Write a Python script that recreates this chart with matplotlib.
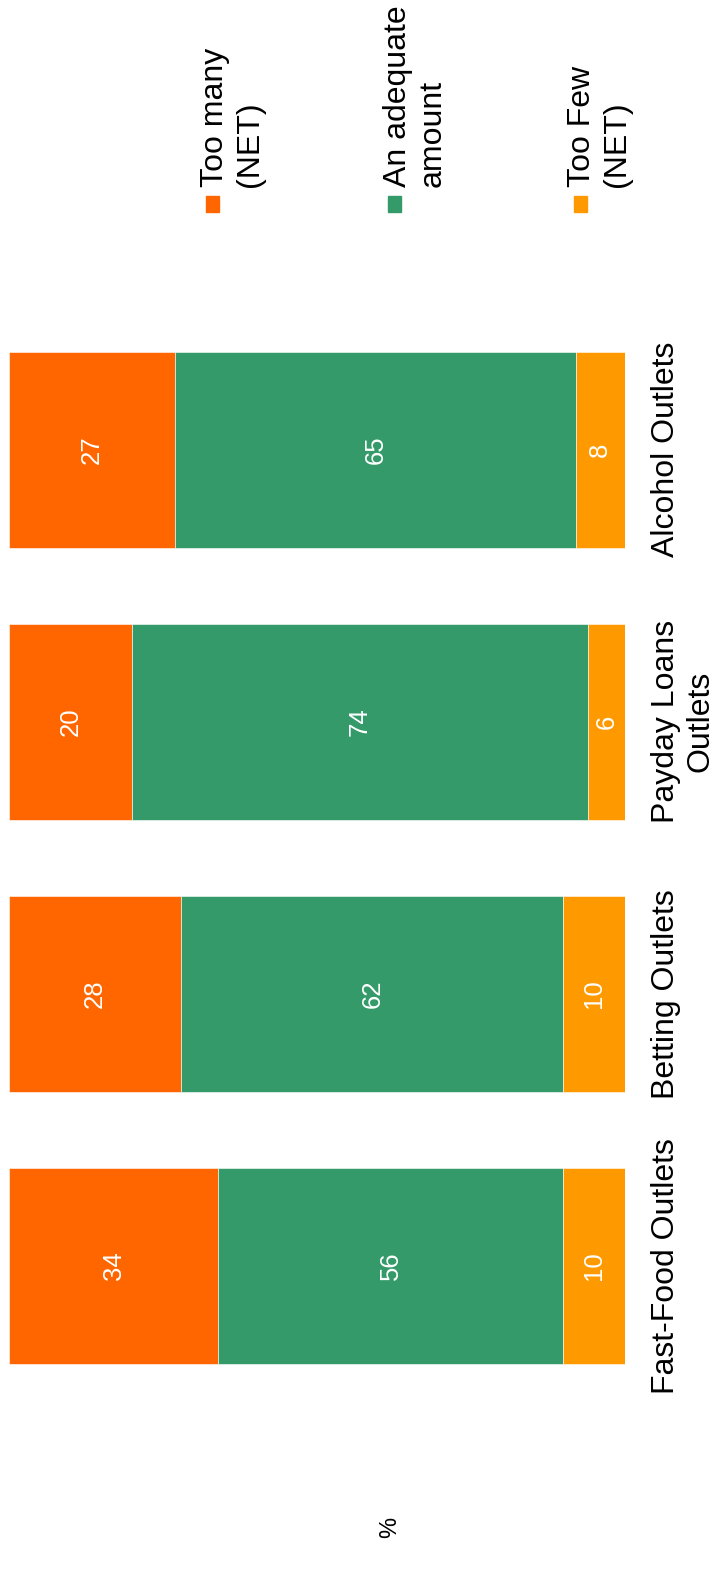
import matplotlib.pyplot as plt
from matplotlib.patches import Rectangle
import numpy as np

plt.rcParams['font.family'] = ['Liberation Sans', 'DejaVu Sans']

# survey results, % per outlet type
categories = ['Fast-Food Outlets', 'Betting Outlets', 'Payday Loans\nOutlets', 'Alcohol Outlets']
too_many = [34, 28, 20, 27]
adequate = [56, 62, 74, 65]
too_few = [10, 10, 6, 8]

series = [('Too many\n(NET)', too_many, '#FF6600'),
          ('An adequate\namount', adequate, '#359A6A'),
          ('Too Few\n(NET)', too_few, '#FF9900')]

W, H = 716, 1576
fig = plt.figure(figsize=(W / 100, H / 100), dpi=100)
ax = fig.add_axes([9 / W, 1 - 1402 / H, 616 / W, (1402 - 313.5) / H])

y = np.arange(len(categories))
left = np.zeros(len(categories))
for name, vals, col in series:
    vals = np.array(vals, dtype=float)
    ax.barh(y, vals, left=left, height=0.72, color=col, edgecolor='white', linewidth=0.4)
    for yi, l, v in zip(y, left, vals):
        ax.text(l + v / 2, yi, f'{int(v)}', rotation=90, ha='center', va='center',
                color='white', fontsize=18.5)
    left += vals

ax.set_xlim(0, 100)
ax.set_ylim(-0.5, len(categories) - 0.5)
ax.axis('off')

# category names, rotated, to the right of the bars
tr = ax.get_yaxis_transform()
for yi, cat in zip(y, categories):
    ax.text((651 - 9) / 616, yi, cat, transform=tr, rotation=90, ha='left', va='center',
            multialignment='center', fontsize=23, color='black')

# legend drawn by hand, rotated like the rest
leg_x = [200, 383, 567]
sq_x = [206, 388, 574]
for (name, vals, col), tx, sx in zip(series, leg_x, sq_x):
    fig.text(tx / W, 1 - 187 / H, name, rotation=90, ha='left', va='bottom',
             multialignment='left', fontsize=23, color='black')
    fig.patches.append(Rectangle((sx / W, 1 - 212 / H), 13 / W, 16 / H,
                                 transform=fig.transFigure, color=col))

fig.text(390 / W, 1 - 1527 / H, '%', rotation=90, ha='center', va='center', fontsize=17)

fig.savefig('out.png', dpi=100, facecolor='white')
